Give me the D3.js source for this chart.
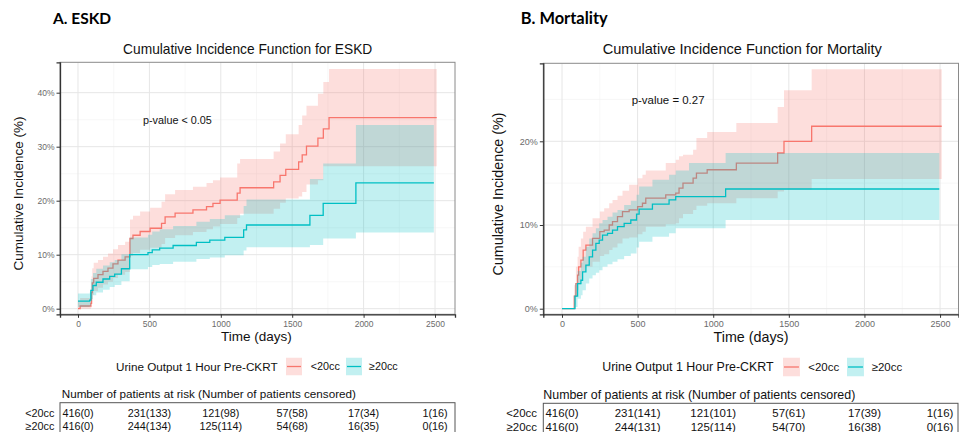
<!DOCTYPE html>
<html><head><meta charset="utf-8">
<script src="https://cdn.jsdelivr.net/npm/d3@7"></script>
<style>body{margin:0;background:#fff}svg{display:block}</style>
</head><body>
<svg id="c" width="959" height="432"></svg>
<script>
// ---------------- DATA ----------------
const groups = ["<20cc", "≥20cc"];
const xTicks = [0, 500, 1000, 1500, 2000, 2500];
const xMinor = [250, 750, 1250, 1750, 2250];
const eskdYTicks = [0, 10, 20, 30, 40];
const eskdYMinor = [5, 15, 25, 35];
const mortYTicks = [0, 10, 20];
const mortYMinor = [5, 15, 25];

// ESKD, <20cc
const eskdLowT  = [0, 15, 90, 95, 100, 110, 140, 175, 210, 245, 280, 330, 364, 385, 435, 505, 585, 610, 680, 805, 900, 945, 995, 1115, 1135, 1370, 1415, 1455, 1545, 1570, 1600, 1680, 1718, 1758, 2512];
const eskdLowEst= [0, 0.5, 1.0, 3.0, 4.8, 5.6, 6.3, 6.9, 7.5, 8.3, 9.0, 9.6, 13.0, 13.6, 14.3, 14.9, 15.8, 17.0, 17.7, 18.3, 18.9, 19.5, 20.1, 21.4, 22.4, 23.5, 24.7, 25.8, 27.2, 28.5, 30.1, 31.6, 33.3, 35.4, 35.4];
const eskdLowHi = [1.5, 2.0, 2.5, 6.0, 7.5, 8.5, 9.0, 9.6, 10.2, 11.0, 11.8, 12.4, 16.5, 17.2, 18.0, 18.7, 19.8, 21.2, 22.0, 22.6, 23.3, 23.8, 24.3, 26.9, 27.7, 29.1, 30.6, 32.3, 34.0, 35.8, 37.6, 39.8, 42.0, 44.4, 44.4];
const eskdLowLo = [0, 0, 0.2, 1.2, 2.6, 3.3, 3.9, 4.5, 5.0, 5.7, 6.3, 6.8, 9.8, 10.3, 10.9, 11.3, 12.0, 13.1, 13.6, 14.2, 14.7, 15.2, 15.7, 16.8, 17.6, 18.5, 19.6, 20.4, 20.8, 21.6, 23.0, 23.8, 26.4, 26.4, 26.4];
// ESKD, >=20cc
const eskdHighT  = [0, 82, 90, 105, 128, 175, 222, 257, 304, 362, 490, 520, 572, 666, 829, 923, 1028, 1160, 1180, 1624, 1717, 1946, 2492];
const eskdHighEst= [1.4, 1.6, 3.4, 4.3, 4.9, 5.5, 6.0, 6.4, 7.4, 10.0, 10.4, 10.9, 11.2, 11.7, 12.3, 12.7, 13.2, 14.6, 15.5, 17.3, 19.5, 23.3, 23.3];
const eskdHighHi = [2.8, 3.0, 5.5, 6.6, 7.4, 8.0, 8.6, 9.0, 10.1, 13.2, 13.7, 14.3, 14.7, 15.3, 16.1, 16.6, 17.3, 19.0, 20.2, 24.0, 26.9, 34.0, 34.0];
const eskdHighLo = [0.3, 0.5, 1.8, 2.5, 3.0, 3.5, 4.0, 4.4, 5.1, 7.3, 7.7, 8.1, 8.3, 8.7, 9.2, 9.5, 9.9, 10.8, 11.4, 11.8, 13.0, 14.1, 14.1];

// Mortality, <20cc
const mortLowT  = [0, 81, 92, 103, 110, 125, 140, 158, 202, 250, 279, 312, 334, 367, 400, 444, 500, 532, 554, 686, 752, 774, 800, 867, 889, 960, 1153, 1426, 1468, 1651, 2511];
const mortLowEst= [0, 1.5, 3.0, 4.0, 5.0, 5.8, 7.0, 7.6, 8.4, 9.2, 9.4, 10.0, 10.4, 11.0, 11.6, 11.8, 12.2, 12.6, 13.2, 13.6, 13.8, 14.4, 15.0, 15.6, 16.2, 16.6, 17.4, 18.6, 20.0, 21.8, 21.8];
const mortLowHi = [0, 2.8, 5.0, 6.2, 7.4, 8.4, 9.2, 9.8, 10.8, 11.6, 12.0, 12.6, 13.0, 13.5, 14.1, 14.8, 15.6, 16.0, 16.5, 17.4, 17.8, 18.2, 18.4, 19.0, 20.4, 21.1, 22.2, 24.1, 26.1, 28.6, 28.6];
const mortLowLo = [0, 0.5, 1.5, 2.2, 2.9, 3.5, 4.5, 5.0, 5.6, 6.3, 6.5, 7.0, 7.3, 7.8, 8.4, 8.5, 8.9, 9.2, 9.8, 10.1, 10.2, 10.8, 11.3, 11.8, 12.3, 12.6, 13.2, 14.0, 14.2, 15.5, 15.5];
// Mortality, >=20cc
const mortHighT  = [0, 86, 103, 125, 136, 158, 180, 202, 224, 246, 268, 301, 334, 367, 411, 455, 493, 510, 598, 708, 752, 840, 1082, 2495];
const mortHighEst= [0, 1.5, 3.0, 3.4, 4.4, 5.2, 6.2, 7.0, 7.8, 8.2, 8.8, 9.0, 9.4, 9.8, 10.2, 10.6, 11.3, 11.9, 12.5, 13.0, 13.4, 13.4, 14.3, 14.3];
const mortHighHi = [0, 3.0, 4.5, 5.5, 6.2, 7.4, 8.4, 9.0, 9.6, 10.2, 10.6, 11.0, 11.5, 11.8, 12.4, 12.9, 13.6, 14.6, 15.4, 16.0, 16.5, 17.4, 18.6, 18.6];
const mortHighLo = [0, 0.2, 1.2, 1.6, 2.2, 3.0, 3.6, 4.0, 4.3, 4.6, 5.0, 5.3, 5.6, 5.9, 6.3, 6.6, 7.3, 8.0, 8.6, 9.0, 9.6, 9.6, 10.6, 10.6];

// Numbers at risk (censored)
const eskdRiskLow  = ["416(0)", "231(133)", "121(98)", "57(58)", "17(34)", "1(16)"];
const eskdRiskHigh = ["416(0)", "244(134)", "125(114)", "54(68)", "16(35)", "0(16)"];
const mortRiskLow  = ["416(0)", "231(141)", "121(101)", "57(61)", "17(39)", "1(16)"];
const mortRiskHigh = ["416(0)", "244(131)", "125(114)", "54(70)", "16(38)", "0(16)"];

// ---------------- DRAW ----------------
const FONT = "'Liberation Sans', Arial, Helvetica, sans-serif";
const RED = "#F8766D", CYAN = "#00BFC4";
const svg = d3.select("#c");

function zip(t, e, lo, hi) { return t.map((d, i) => ({t: d, e: e[i], lo: lo[i], hi: hi[i]})); }

const panels = [
  {
    letter: "A. ESKD", letterX: 53, letterY: 24, letterSize: 15.5,
    title: "Cumulative Incidence Function for ESKD", titleX: 247.7, titleY: 53.5,
    plot: {l: 60, r: 455, t: 62.3, b: 314.3}, xDom: [-126, 2640], yDom: [-1.037, 45.63],
    yTicks: eskdYTicks, yMinor: eskdYMinor, s: 1,
    yTitleX: 22.5, yTitleY: 193.5, xTitleY: 341,
    pText: "p-value < 0.05", pX: 143, pY: 124,
    legY: 366.5, legTextX: 116, key1X: 286, key2X: 346, lab1X: 310.7, lab2X: 369,
    headerX: 61.7, headerY: 398, boxTop: 402.7, boxRight: 455, row1Y: 416.5, row2Y: 430, rowLabelX: 54.3,
    series: [zip(eskdLowT, eskdLowEst, eskdLowLo, eskdLowHi), zip(eskdHighT, eskdHighEst, eskdHighLo, eskdHighHi)],
    risk: [eskdRiskLow, eskdRiskHigh]
  },
  {
    letter: "B. Mortality", letterX: 520.7, letterY: 24, letterSize: 15.5,
    title: "Cumulative Incidence Function for Mortality", titleX: 742.3, titleY: 54,
    plot: {l: 543.3, r: 958.5, t: 63.3, b: 314.3}, xDom: [-123.7, 2622], yDom: [-0.669, 29.32],
    yTicks: mortYTicks, yMinor: mortYMinor, s: 1.06,
    yTitleX: 502.5, yTitleY: 194, xTitleY: 341.5,
    pText: "p-value = 0.27", pX: 631.7, pY: 104,
    legY: 367, legTextX: 602.3, key1X: 783, key2X: 847, lab1X: 808.3, lab2X: 871.7,
    headerX: 543.3, headerY: 398.5, boxTop: 403.3, boxRight: 958, row1Y: 417, row2Y: 430.5, rowLabelX: 537,
    series: [zip(mortLowT, mortLowEst, mortLowLo, mortLowHi), zip(mortHighT, mortHighEst, mortHighLo, mortHighHi)],
    risk: [mortRiskLow, mortRiskHigh]
  }
];

panels.forEach(p => {
  const g = svg.append("g");
  const x = d3.scaleLinear().domain(p.xDom).range([p.plot.l, p.plot.r]);
  const y = d3.scaleLinear().domain(p.yDom).range([p.plot.b, p.plot.t]);
  const s = p.s;

  // panel letter
  g.append("text").attr("x", p.letterX).attr("y", p.letterY)
    .attr("font-family", "Lato, 'Open Sans', sans-serif").attr("font-weight", 700)
    .attr("font-size", p.letterSize * s).attr("fill", "#000").text(p.letter);

  // title
  g.append("text").attr("x", p.titleX).attr("y", p.titleY).attr("text-anchor", "middle")
    .attr("font-family", FONT).attr("font-size", 13.75 * s).attr("fill", "#111").text(p.title);

  // grid
  const clipId = "clip" + p.letter[0];
  svg.append("clipPath").attr("id", clipId).append("rect")
    .attr("x", p.plot.l).attr("y", p.plot.t).attr("width", p.plot.r - p.plot.l).attr("height", p.plot.b - p.plot.t);
  const grid = g.append("g").attr("clip-path", `url(#${clipId})`);
  grid.selectAll(".vmin").data(xMinor).join("line")
    .attr("x1", d => x(d)).attr("x2", d => x(d)).attr("y1", p.plot.t).attr("y2", p.plot.b)
    .attr("stroke", "#F2F2F2").attr("stroke-width", 0.6);
  grid.selectAll(".hmin").data(p.yMinor).join("line")
    .attr("y1", d => y(d)).attr("y2", d => y(d)).attr("x1", p.plot.l).attr("x2", p.plot.r)
    .attr("stroke", "#F2F2F2").attr("stroke-width", 0.6);
  grid.selectAll(".vmaj").data(xTicks).join("line")
    .attr("x1", d => x(d)).attr("x2", d => x(d)).attr("y1", p.plot.t).attr("y2", p.plot.b)
    .attr("stroke", "#E6E6E6").attr("stroke-width", 1);
  grid.selectAll(".hmaj").data(p.yTicks).join("line")
    .attr("y1", d => y(d)).attr("y2", d => y(d)).attr("x1", p.plot.l).attr("x2", p.plot.r)
    .attr("stroke", "#E6E6E6").attr("stroke-width", 1);

  // ribbons and lines
  const colors = [RED, CYAN];
  const area = d3.area().curve(d3.curveStepAfter).x(d => x(d.t)).y0(d => y(d.lo)).y1(d => y(d.hi));
  const line = d3.line().curve(d3.curveStepAfter).x(d => x(d.t)).y(d => y(d.e));
  p.series.forEach((ser, i) => {
    grid.append("path").datum(ser).attr("d", area).attr("fill", colors[i]).attr("fill-opacity", 0.24);
    grid.append("path").datum(ser).attr("d", line).attr("fill", "none")
      .attr("stroke", colors[i]).attr("stroke-width", 1.3);
  });

  // border
  g.append("rect").attr("x", p.plot.l).attr("y", p.plot.t).attr("width", p.plot.r - p.plot.l)
    .attr("height", p.plot.b - p.plot.t).attr("fill", "none").attr("stroke", "#8a8a8a").attr("stroke-width", 1);

  // axes
  const xAxis = d3.axisBottom(x).tickValues(xTicks).tickSize(3.5).tickPadding(3).tickFormat(d3.format("d"));
  const ax = g.append("g").attr("transform", `translate(0,${p.plot.b})`).call(xAxis);
  ax.select(".domain").attr("stroke", "#333").attr("stroke-width", 1.3);
  ax.selectAll(".tick line").attr("stroke", "#333");
  ax.selectAll(".tick text").attr("font-family", FONT).attr("font-size", 8.5 * s).attr("fill", "#6b6b6b");

  const yAxis = d3.axisLeft(y).tickValues(p.yTicks).tickSize(3.5).tickPadding(2).tickFormat(d => d + "%");
  const ay = g.append("g").attr("transform", `translate(${p.plot.l},0)`).call(yAxis);
  ay.select(".domain").attr("stroke", "#333").attr("stroke-width", 1.3);
  ay.selectAll(".tick line").attr("stroke", "#333");
  ay.selectAll(".tick text").attr("font-family", FONT).attr("font-size", 8.5 * s).attr("fill", "#6b6b6b");

  // axis titles
  g.append("text").attr("transform", `translate(${p.yTitleX},${p.yTitleY}) rotate(-90)`)
    .attr("text-anchor", "middle").attr("font-family", FONT).attr("font-size", 13.5 * s)
    .attr("fill", "#111").text("Cumulative Incidence (%)");
  g.append("text").attr("x", (x(0) + x(2500)) / 2).attr("y", p.xTitleY).attr("text-anchor", "middle")
    .attr("font-family", FONT).attr("font-size", 13.5 * s).attr("fill", "#111").text("Time (days)");

  // p-value
  g.append("text").attr("x", p.pX).attr("y", p.pY).attr("font-family", FONT)
    .attr("font-size", 10.8 * s).attr("fill", "#111").text(p.pText);

  // legend
  g.append("text").attr("x", p.legTextX).attr("y", p.legY).attr("dy", "0.35em")
    .attr("font-family", FONT).attr("font-size", 11.7 * s).attr("fill", "#111").text("Urine Output 1 Hour Pre-CKRT");
  const kw = 16 * s, kh = 17.5 * s;
  [[p.key1X, p.lab1X], [p.key2X, p.lab2X]].forEach((k, i) => {
    g.append("rect").attr("x", k[0]).attr("y", p.legY - kh / 2).attr("width", kw).attr("height", kh)
      .attr("fill", colors[i]).attr("fill-opacity", 0.24);
    g.append("line").attr("x1", k[0] + 1).attr("x2", k[0] + kw - 1).attr("y1", p.legY).attr("y2", p.legY)
      .attr("stroke", colors[i]).attr("stroke-width", 1.3);
    g.append("text").attr("x", k[1]).attr("y", p.legY).attr("dy", "0.35em")
      .attr("font-family", FONT).attr("font-size", 10.8 * s).attr("fill", "#111").text(groups[i]);
  });

  // risk table
  g.append("text").attr("x", p.headerX).attr("y", p.headerY).attr("font-family", FONT)
    .attr("font-size", 11.7 * s).attr("fill", "#111").text("Number of patients at risk (Number of patients censored)");
  g.append("rect").attr("x", p.plot.l).attr("y", p.boxTop).attr("width", p.boxRight - p.plot.l)
    .attr("height", 40).attr("fill", "none").attr("stroke", "#555").attr("stroke-width", 1);
  const rowsY = [p.row1Y, p.row2Y];
  p.risk.forEach((row, i) => {
    g.append("text").attr("x", p.rowLabelX).attr("y", rowsY[i]).attr("text-anchor", "end")
      .attr("font-family", FONT).attr("font-size", 10.8 * s).attr("fill", "#111").text(groups[i]);
    g.selectAll(null).data(row).join("text")
      .attr("x", (d, j) => x(xTicks[j])).attr("y", rowsY[i]).attr("text-anchor", "middle")
      .attr("font-family", FONT).attr("font-size", 10.8 * s).attr("fill", "#111").text(d => d);
  });
});
</script>
</body></html>
